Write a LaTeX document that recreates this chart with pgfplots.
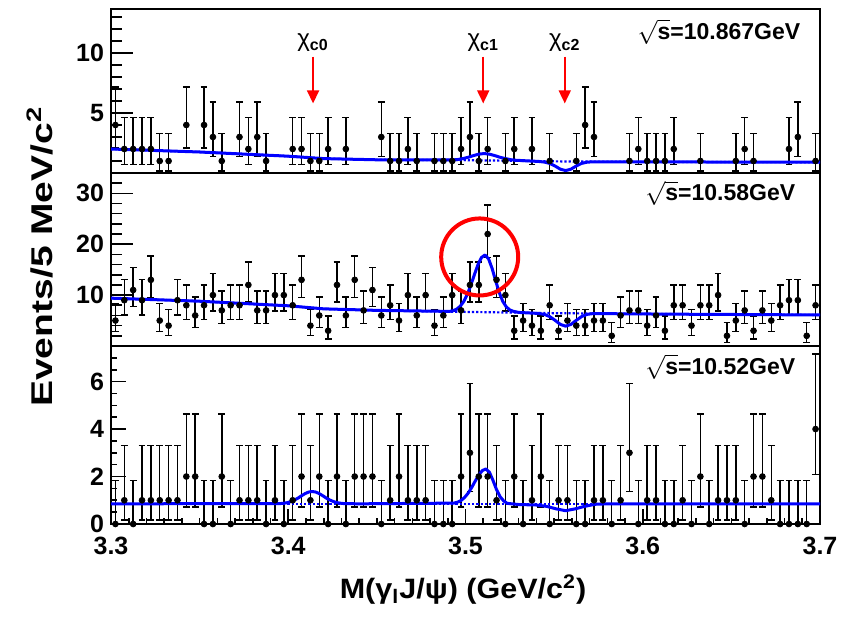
\documentclass[border=0pt]{standalone}
\usepackage{fontspec}
\setmainfont{Liberation Sans}
\usepackage{graphicx}
\usepackage{pgfplots}
\pgfplotsset{compat=1.18}
\usepackage{pgfplotstable}
\usetikzlibrary{arrows.meta}

% 10.867 GeV (zero bins not drawn)
\pgfplotstableread{
x y em ep
3.3025 4 1.914 3.162
3.3075 2 1.292 2.637
3.3125 2 1.292 2.637
3.3175 2 1.292 2.637
3.3225 2 1.292 2.637
3.3275 1 0.827 2.299
3.3325 1 0.827 2.299
3.3425 4 1.914 3.162
3.3525 4 1.914 3.162
3.3575 3 1.633 2.918
3.3625 1 0.827 2.299
3.3725 3 1.633 2.918
3.3775 2 1.292 2.637
3.3825 3 1.633 2.918
3.3875 1 0.827 2.299
3.4025 2 1.292 2.637
3.4075 2 1.292 2.637
3.4125 1 0.827 2.299
3.4175 1 0.827 2.299
3.4225 2 1.292 2.637
3.4325 2 1.292 2.637
3.4525 3 1.633 2.918
3.4575 1 0.827 2.299
3.4625 1 0.827 2.299
3.4675 2 1.292 2.637
3.4725 1 0.827 2.299
3.4825 1 0.827 2.299
3.4875 1 0.827 2.299
3.4925 1 0.827 2.299
3.4975 2 1.292 2.637
3.5025 3 1.633 2.918
3.5075 1 0.827 2.299
3.5125 2 1.292 2.637
3.5225 1 0.827 2.299
3.5275 2 1.292 2.637
3.5375 2 1.292 2.637
3.5475 1 0.827 2.299
3.5625 1 0.827 2.299
3.5675 4 1.914 3.162
3.5725 3 1.633 2.918
3.5925 1 0.827 2.299
3.5975 2 1.292 2.637
3.6025 1 0.827 2.299
3.6075 1 0.827 2.299
3.6125 1 0.827 2.299
3.6175 2 1.292 2.637
3.6325 1 0.827 2.299
3.6525 1 0.827 2.299
3.6575 2 1.292 2.637
3.6625 1 0.827 2.299
3.6825 2 1.292 2.637
3.6875 3 1.633 2.918
3.6975 1 0.827 2.299
}\dataA

% 10.58 GeV
\pgfplotstableread{
x y em ep
3.3025 5 2.159 3.382
3.3075 9 2.928 4.110
3.3125 11 3.236 4.414
3.3175 9 2.928 4.110
3.3225 13 3.510 4.693
3.3275 5 2.159 3.382
3.3325 4 1.914 3.162
3.3375 9 2.928 4.110
3.3425 8 2.758 3.945
3.3475 6 2.377 3.583
3.3525 8 2.758 3.945
3.3575 10 3.086 4.266
3.3625 7 2.576 3.770
3.3675 8 2.758 3.945
3.3725 8 2.758 3.945
3.3775 12 3.376 4.556
3.3825 7 2.576 3.770
3.3875 7 2.576 3.770
3.3925 10 3.086 4.266
3.3975 10 3.086 4.266
3.4025 8 2.758 3.945
3.4075 13 3.510 4.693
3.4125 4 1.914 3.162
3.4175 6 2.377 3.583
3.4225 3 1.633 2.918
3.4275 12 3.376 4.556
3.4325 6 2.377 3.583
3.4375 13 3.510 4.693
3.4425 7 2.576 3.770
3.4475 11 3.236 4.414
3.4525 6 2.377 3.583
3.4575 8 2.758 3.945
3.4625 5 2.159 3.382
3.4675 10 3.086 4.266
3.4725 6 2.377 3.583
3.4775 10 3.086 4.266
3.4825 4 1.914 3.162
3.4875 6 2.377 3.583
3.4925 10 3.086 4.266
3.4975 7 2.576 3.770
3.5025 12 3.376 4.556
3.5075 12 3.376 4.556
3.5125 22 4.655 5.756
3.5175 13 3.510 4.693
3.5225 10 3.086 4.266
3.5275 3 1.633 2.918
3.5325 5 2.159 3.382
3.5375 4 1.914 3.162
3.5425 3 1.633 2.918
3.5475 8 2.758 3.945
3.5525 3 1.633 2.918
3.5575 5 2.159 3.382
3.5625 4 1.914 3.162
3.5675 4 1.914 3.162
3.5725 5 2.159 3.382
3.5775 5 2.159 3.382
3.5825 2 1.292 2.637
3.5875 6 2.377 3.583
3.5925 7 2.576 3.770
3.5975 7 2.576 3.770
3.6025 4 1.914 3.162
3.6075 6 2.377 3.583
3.6125 3 1.633 2.918
3.6175 8 2.758 3.945
3.6225 8 2.758 3.945
3.6275 4 1.914 3.162
3.6325 8 2.758 3.945
3.6375 8 2.758 3.945
3.6425 10 3.086 4.266
3.6475 2 1.292 2.637
3.6525 5 2.159 3.382
3.6575 7 2.576 3.770
3.6625 3 1.633 2.918
3.6675 7 2.576 3.770
3.6725 5 2.159 3.382
3.6775 8 2.758 3.945
3.6825 9 2.928 4.110
3.6875 9 2.928 4.110
3.6925 2 1.292 2.637
3.6975 8 2.758 3.945
}\dataB

% 10.52 GeV
\pgfplotstableread{
x y em ep
3.3025 0 0 1.841
3.3075 1 0.827 2.299
3.3125 0 0 1.841
3.3175 1 0.827 2.299
3.3225 1 0.827 2.299
3.3275 1 0.827 2.299
3.3325 1 0.827 2.299
3.3375 1 0.827 2.299
3.3425 2 1.292 2.637
3.3475 2 1.292 2.637
3.3525 0 0 1.841
3.3575 0 0 1.841
3.3625 2 1.292 2.637
3.3675 0 0 1.841
3.3725 1 0.827 2.299
3.3775 1 0.827 2.299
3.3825 1 0.827 2.299
3.3875 0 0 1.841
3.3925 1 0.827 2.299
3.3975 0 0 1.841
3.4025 1 0.827 2.299
3.4075 2 1.292 2.637
3.4125 1 0.827 2.299
3.4175 2 1.292 2.637
3.4225 0 0 1.841
3.4275 2 1.292 2.637
3.4325 0 0 1.841
3.4375 2 1.292 2.637
3.4425 2 1.292 2.637
3.4475 2 1.292 2.637
3.4525 0 0 1.841
3.4575 1 0.827 2.299
3.4625 2 1.292 2.637
3.4675 1 0.827 2.299
3.4725 1 0.827 2.299
3.4775 1 0.827 2.299
3.4825 0 0 1.841
3.4875 0 0 1.841
3.4925 0 0 1.841
3.4975 2 1.292 2.637
3.5025 3 1.633 2.918
3.5075 2 1.292 2.637
3.5125 2 1.292 2.637
3.5175 1 0.827 2.299
3.5225 0 0 1.841
3.5275 2 1.292 2.637
3.5325 0 0 1.841
3.5375 1 0.827 2.299
3.5425 2 1.292 2.637
3.5475 0 0 1.841
3.5525 1 0.827 2.299
3.5575 1 0.827 2.299
3.5625 0 0 1.841
3.5675 0 0 1.841
3.5725 1 0.827 2.299
3.5775 1 0.827 2.299
3.5825 0 0 1.841
3.5875 1 0.827 2.299
3.5925 3 1.633 2.918
3.5975 0 0 1.841
3.6025 1 0.827 2.299
3.6075 1 0.827 2.299
3.6125 0 0 1.841
3.6175 0 0 1.841
3.6225 1 0.827 2.299
3.6275 0 0 1.841
3.6325 2 1.292 2.637
3.6375 0 0 1.841
3.6425 1 0.827 2.299
3.6475 1 0.827 2.299
3.6525 1 0.827 2.299
3.6575 0 0 1.841
3.6625 2 1.292 2.637
3.6675 2 1.292 2.637
3.6725 1 0.827 2.299
3.6775 0 0 1.841
3.6825 0 0 1.841
3.6875 0 0 1.841
3.6925 0 0 1.841
3.6975 4 1.914 3.162
}\dataC

\pgfplotsset{
  panel/.style={
    scale only axis, width=354.5pt, xmin=3.3, xmax=3.7, ymin=0,
    axis line style={line width=1pt},
    tick style={black, line width=0.8pt},
    ytick pos=left, xtick pos=bottom, tick align=inside,
    /pgf/number format/assume math mode=true,
    /pgf/number format/fixed,
    tick label style={font=\fontsize{12.5}{14}\selectfont\bfseries},
    anchor=south west,
  },
  dpts/.style={only marks, mark=*, mark size=1.45pt, black,
    mark options={fill=black, draw=black},
    error bars/.cd, y dir=both, y explicit,
    error bar style={line width=0.75pt, black},
    error mark options={rotate=90, line width=0.75pt, mark size=1.7pt, black}},
  fitc/.style={blue, line width=1.5pt, line join=round},
  bkgc/.style={blue, line width=1.1pt, densely dotted},
}

\begin{document}
\begin{tikzpicture}
\path[use as bounding box] (0,0) rectangle (430.5pt,310pt);

% ---------------- top panel ----------------
\begin{axis}[panel, at={(55.5pt,223.5pt)}, height=82pt, ymax=13.67,
  ytick={5,10}, minor ytick={1,2,3,4,6,7,8,9,11,12,13},
  major tick length=11pt, minor tick length=5.5pt, xtick=\empty]
\addplot[dpts] table[x=x, y=y, y error minus=em, y error plus=ep] {\dataA};
\addplot[bkgc] coordinates {(3.30,2.0) (3.35,1.75) (3.40,1.4) (3.42,1.2) (3.45,1.1) (3.50,1.07) (3.55,0.97) (3.60,0.92) (3.70,0.9)};
\addplot[fitc] coordinates {(3.30,2.0) (3.35,1.75) (3.40,1.4) (3.42,1.2) (3.45,1.1) (3.4925,1.09) (3.4955,1.12) (3.4985,1.20) (3.5015,1.31) (3.5045,1.45) (3.5075,1.57) (3.5105,1.62) (3.5135,1.57) (3.5165,1.45) (3.5195,1.31) (3.5225,1.20) (3.5255,1.11) (3.5285,1.06) (3.5415,0.96) (3.5445,0.91) (3.5475,0.80) (3.5505,0.585) (3.5535,0.32) (3.5565,0.2) (3.5595,0.32) (3.5625,0.585) (3.5655,0.80) (3.5685,0.90) (3.5715,0.93) (3.58,0.93) (3.70,0.9)};
\foreach \xa/\lab in {3.414/c0, 3.510/c1, 3.556/c2}{
  \edef\temp{\noexpand\draw[red, line width=0.9pt, -{Triangle[length=6.5pt,width=6pt]}] (axis cs:\xa,9.7) -- (axis cs:\xa,5.8);
  \noexpand\node[anchor=south, inner sep=1pt, font=\noexpand\fontsize{12}{13}\noexpand\selectfont] at (axis cs:\xa,9.9) {χ\noexpand\textsubscript{\noexpand\bfseries \lab}};}
  \temp
}
\node[anchor=east, font=\fontsize{11.5}{13}\selectfont\bfseries] at (axis description cs:0.982,0.86) {$\sqrt{\mbox{s}}$=10.867GeV};
\end{axis}

% ---------------- middle panel ----------------
\begin{axis}[panel, at={(55.5pt,137pt)}, height=86.5pt, ymax=34,
  ytick={10,20,30}, minor ytick={2,4,6,8,12,14,16,18,22,24,26,28,32,34},
  major tick length=11pt, minor tick length=5.5pt, xtick=\empty]
\addplot[dpts] table[x=x, y=y, y error minus=em, y error plus=ep] {\dataB};
\addplot[bkgc] coordinates {(3.30,9.4) (3.35,8.8) (3.40,7.9) (3.42,7.3) (3.45,7.0) (3.50,6.7) (3.55,6.45) (3.60,6.3) (3.70,6.1)};
\addplot[fitc] coordinates {(3.30,9.4) (3.35,8.8) (3.40,7.9) (3.42,7.3) (3.45,7.0) (3.491,6.8) (3.493,6.94) (3.495,7.24) (3.497,7.8) (3.499,8.74) (3.501,10.13) (3.503,11.95) (3.505,14.0) (3.507,15.96) (3.509,17.38) (3.511,17.9) (3.513,17.13) (3.515,15.25) (3.517,12.82) (3.519,10.54) (3.521,8.79) (3.523,7.69) (3.525,7.09) (3.527,6.81) (3.530,6.6) (3.5415,6.39) (3.5445,6.21) (3.5475,5.78) (3.5505,5.05) (3.5535,4.25) (3.5565,3.9) (3.5595,4.25) (3.5625,5.05) (3.5655,5.78) (3.5685,6.21) (3.5715,6.35) (3.58,6.35) (3.62,6.25) (3.70,6.1)};
\draw[red, line width=2pt] (axis cs:3.508,17.5) circle[radius=19.25pt];
\node[anchor=east, font=\fontsize{11.5}{13}\selectfont\bfseries] at (axis description cs:0.975,0.884) {$\sqrt{\mbox{s}}$=10.58GeV};
\end{axis}

% ---------------- bottom panel ----------------
\begin{axis}[panel, at={(55.5pt,48pt)}, height=89pt, ymax=7.5,
  ytick={0,2,4,6}, minor ytick={0.5,1,1.5,2.5,3,3.5,4.5,5,5.5,6.5,7,7.5},
  xtick={3.3,3.4,3.5,3.6,3.7}, minor x tick num=9,
  xticklabel style={yshift=-3pt},
  /pgf/number format/precision=1,
  major tick length=7.5pt, minor tick length=3pt]
\addplot[dpts] table[x=x, y=y, y error minus=em, y error plus=ep] {\dataC};
\addplot[bkgc] coordinates {(3.30,0.85) (3.70,0.85)};
\addplot[fitc] coordinates {(3.30,0.85) (3.3955,0.86) (3.3975,0.875) (3.3995,0.90) (3.4015,0.945) (3.4035,1.01) (3.4055,1.09) (3.4075,1.19) (3.4095,1.28) (3.4115,1.346) (3.4135,1.37) (3.4155,1.346) (3.4175,1.28) (3.4195,1.19) (3.4215,1.09) (3.4235,1.01) (3.4255,0.945) (3.4275,0.90) (3.4295,0.875) (3.4315,0.86) (3.44,0.85) (3.4935,0.88) (3.4955,0.92) (3.4975,0.99) (3.4995,1.12) (3.5015,1.30) (3.5035,1.54) (3.5055,1.81) (3.5075,2.07) (3.5095,2.25) (3.5115,2.32) (3.5135,2.18) (3.5155,1.84) (3.5175,1.45) (3.5195,1.15) (3.5215,0.975) (3.5235,0.87) (3.530,0.82) (3.540,0.80) (3.546,0.74) (3.551,0.64) (3.5565,0.56) (3.562,0.64) (3.567,0.74) (3.573,0.83) (3.58,0.85) (3.70,0.85)};
\node[anchor=east, font=\fontsize{11.5}{13}\selectfont\bfseries] at (axis description cs:0.975,0.884) {$\sqrt{\mbox{s}}$=10.52GeV};
\end{axis}

% axis titles
\node[rotate=90, anchor=base, inner sep=0pt, font=\fontsize{15}{17}\selectfont\bfseries] at (26pt,181.75pt) {\scalebox{1.3}[1]{Events/5 MeV/c\textsuperscript{2}}};
\node[anchor=base, inner sep=0pt, font=\fontsize{14}{16}\selectfont\bfseries] at (231.5pt,10.5pt) {\scalebox{1.09}[1]{M(γ\textsubscript{l}J/ψ) (GeV/c\textsuperscript{2})}};
\end{tikzpicture}
\end{document}
